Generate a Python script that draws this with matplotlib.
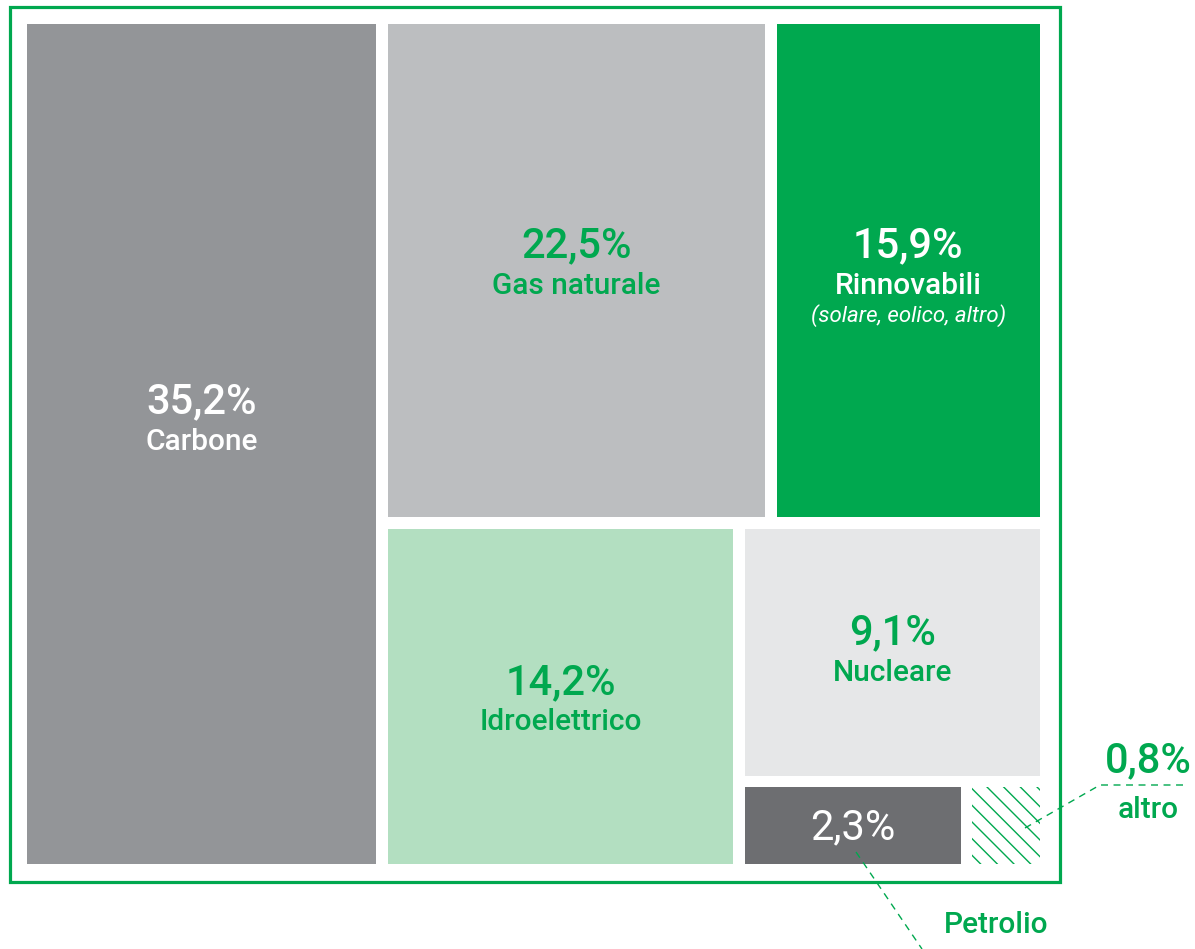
import matplotlib
matplotlib.use("Agg")
import matplotlib.pyplot as plt
from matplotlib.patches import Rectangle

# ---- data ----
categories = ["Carbone", "Gas naturale", "Rinnovabili", "Idroelettrico",
              "Nucleare", "Petrolio", "altro"]
shares = [35.2, 22.5, 15.9, 14.2, 9.1, 2.3, 0.8]
subtitles = ["", "", "(solare, eolico, altro)", "", "", "", ""]

# ---- styles ----
GREEN = "#00a84f"
fills = ["#939598", "#bcbec0", "#00a84f", "#b3dfc1", "#e6e7e8", "#6d6e71", "white"]
text_colors = ["white", GREEN, "white", GREEN, GREEN, "white", GREEN]
FONT = ["Roboto", "DejaVu Sans"]

# hierarchical slice layout (h = side by side, v = stacked)
tree = ("h", [0, ("v", [("h", [1, 2]), ("h", [3, ("v", [4, ("h", [5, 6])])])])])
GAP = 11.5
rects = {}


def total(node):
    if isinstance(node, int):
        return shares[node]
    return sum(total(c) for c in node[1])


def layout(node, x0, y0, x1, y1):
    if isinstance(node, int):
        rects[node] = (x0, y0, x1, y1)
        return
    d, kids = node
    tot = sum(total(k) for k in kids)
    L = (x1 - x0) if d == "h" else (y1 - y0)
    avail = L + GAP
    pos = x0 if d == "h" else y0
    for k in kids:
        size = total(k) / tot * avail - GAP
        if d == "h":
            layout(k, pos, y0, pos + size, y1)
        else:
            layout(k, x0, pos, x1, pos + size)
        pos += size + GAP


W, H = 1195, 949
fig = plt.figure(figsize=(W / 100, H / 100), dpi=100)
ax = fig.add_axes([0, 0, 1, 1])
ax.set_xlim(0, W)
ax.set_ylim(H, 0)
ax.axis("off")

layout(tree, 27, 24, 1040, 864)

# outer frame
ax.add_patch(Rectangle((10, 7), 1050, 875, fill=False, edgecolor=GREEN, lw=2.3))

plt.rcParams["hatch.linewidth"] = 1.0
for i, (x0, y0, x1, y1) in rects.items():
    if i == 6:
        ax.add_patch(Rectangle((x0, y0), x1 - x0, y1 - y0, facecolor="white",
                               edgecolor=GREEN, hatch="\\\\", lw=0))
    else:
        ax.add_patch(Rectangle((x0, y0), x1 - x0, y1 - y0, facecolor=fills[i],
                               edgecolor="none"))

pct = [f"{v:.1f}%".replace(".", ",") for v in shares]
PCT_SIZE = 30
LAB_SIZE = 21.5
nudges = {0: -42, 1: -25, 2: -25, 3: -14, 4: -19}

for i in range(5):
    x0, y0, x1, y1 = rects[i]
    cx = (x0 + x1) / 2
    cy = (y0 + y1) / 2 + nudges[i]
    ax.text(cx, cy, pct[i], color=text_colors[i], fontsize=PCT_SIZE,
            fontweight="medium", family=FONT, ha="center", va="center")
    ax.text(cx, cy + 40, categories[i], color=text_colors[i], fontsize=LAB_SIZE,
            fontweight="medium", family=FONT, ha="center", va="center")
    if subtitles[i]:
        ax.text(cx, cy + 70, subtitles[i], color=text_colors[i], fontsize=16,
                style="italic", family=FONT, ha="center", va="center")

# Petrolio
x0, y0, x1, y1 = rects[5]
ax.text((x0 + x1) / 2, (y0 + y1) / 2 + 2, pct[5], color="white", fontsize=PCT_SIZE,
        family=FONT, ha="center", va="center")
ax.plot([856, 922], [852, 949], color=GREEN, lw=1.0, ls=(0, (5, 4)))
ax.text(996, 925, categories[5], color=GREEN, fontsize=LAB_SIZE,
        fontweight="medium", family=FONT, ha="center", va="center")

# altro
ax.plot([1025, 1100, 1186], [828, 785, 785], color=GREEN, lw=1.0, ls=(0, (5, 4)))
ax.text(1148, 761, pct[6], color=GREEN, fontsize=PCT_SIZE,
        fontweight="medium", family=FONT, ha="center", va="center")
ax.text(1148, 810, categories[6], color=GREEN, fontsize=LAB_SIZE,
        fontweight="medium", family=FONT, ha="center", va="center")

fig.savefig("out.png", dpi=100)
